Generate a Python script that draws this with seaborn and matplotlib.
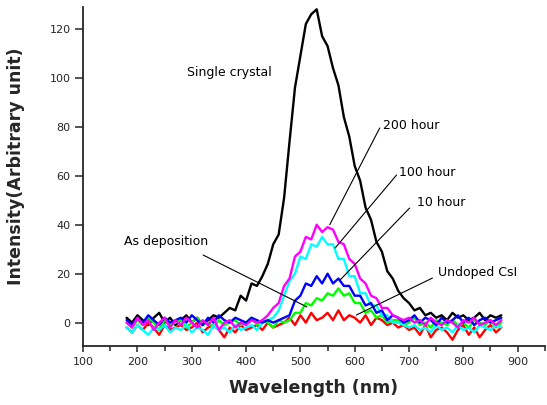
import numpy as np
import pandas as pd
import matplotlib
matplotlib.use("Agg")
import matplotlib.pyplot as plt
from matplotlib.ticker import MultipleLocator
import seaborn as sns

# wavelength grid (nm), 10 nm steps
wavelength = np.arange(180, 871, 10)

# intensities (arbitrary units)
single_crystal = [
    2, 0, 3, 1, -1, 2, 4, 0, 2, -1,
    1, 3, 0, 2, -1, 1, 3, 2, 4, 6,
    5, 11, 9, 16, 15, 19, 24, 32, 36, 51,
    74, 96, 109, 122, 126, 128, 117, 113, 104, 97,
    84, 76, 64, 58, 47, 42, 33, 29, 21, 18,
    13, 10, 8, 5, 6, 3, 4, 2, 3, 1,
    4, 2, 3, 1, 2, 4, 1, 3, 2, 3,
]
hour_200 = [
    0, -2, 2, -1, 1, -3, 0, 2, -2, 1,
    -1, 2, 0, -2, 1, -1, 2, -3, 0, 1,
    -2, 0, -1, 1, 0, 1, 3, 6, 8, 15,
    18, 27, 29, 35, 34, 40, 37, 39, 38, 33,
    32, 26, 24, 18, 16, 11, 10, 6, 6, 3,
    2, 1, 2, 0, 1, -1, 2, 0, -1, 1,
    0, -2, 1, 0, 2, -1, 0, 1, -1, 1,
]
hour_100 = [
    -2, -4, -1, -3, -5, -2, -3, -1, -4, -2,
    -3, -1, -4, -2, -3, -5, -1, -3, -2, -4,
    -1, -3, -2, -1, -3, 0, 1, 2, 5, 11,
    17, 20, 27, 26, 32, 31, 35, 32, 32, 26,
    26, 19, 19, 12, 12, 7, 7, 3, 3, 0,
    0, -1, -2, -1, -3, -2, -4, -1, -3, -2,
    -4, -1, -3, -2, -4, -1, -2, -3, -1, -2,
]
hour_10 = [
    1, -1, 2, 0, 3, 1, -1, 2, 0, 1,
    2, 0, 3, 1, -1, 2, 0, 3, 1, 0,
    2, 1, 0, 2, 1, 0, 1, 0, 1, 2,
    3, 9, 11, 16, 15, 19, 16, 20, 16, 18,
    15, 15, 11, 11, 7, 8, 4, 5, 1, 3,
    2, 0, 1, 3, 0, 2, 1, -1, 2, 0,
    1, 3, 0, 2, -1, 1, 2, 0, 1, 2,
]
as_deposition = [
    0, -2, 1, -1, 2, 0, -3, 1, -1, 0,
    1, -2, 0, 2, -1, 0, -2, 1, -1, 0,
    1, -1, 0, 2, -1, 1, 0, -2, 1, 0,
    1, 4, 4, 8, 7, 10, 9, 12, 11, 14,
    11, 12, 8, 8, 4, 5, 2, 3, 0, 1,
    1, -1, 0, 2, -1, 0, -2, 1, 0, -1,
    1, -1, 0, -2, 1, 0, -1, 1, -2, 0,
]
undoped_csi = [
    -2, -4, -1, -3, 0, -2, -5, -1, -3, -2,
    -1, -3, -2, 0, -4, -2, -1, -3, -6, -2,
    -4, -1, -3, -2, -1, -3, 0, -2, -1, 0,
    2, -1, 3, 0, 4, 1, 2, 4, 1, 5,
    1, 3, 2, 0, 3, -1, 2, 1, -1, 0,
    -2, -1, -3, -2, -5, -1, -6, -3, -2, -4,
    -7, -3, -1, -5, -2, -6, -3, -1, -4, -2,
]

samples = ["Single crystal", "Undoped CsI", "As deposition",
           "100 hour", "10 hour", "200 hour"]
series = {
    "Single crystal": single_crystal,
    "Undoped CsI": undoped_csi,
    "As deposition": as_deposition,
    "100 hour": hour_100,
    "10 hour": hour_10,
    "200 hour": hour_200,
}
colors = {
    "Single crystal": "#000000",
    "Undoped CsI": "#ff0000",
    "As deposition": "#00ff00",
    "100 hour": "#00ffff",
    "10 hour": "#0000ff",
    "200 hour": "#ff00ff",
}

df = pd.concat(
    [pd.DataFrame({"wavelength": wavelength, "intensity": series[s], "sample": s})
     for s in samples],
    ignore_index=True,
)

sns.set_style("ticks")
plt.rcParams["font.family"] = ["DejaVu Sans"]

fig = plt.figure(figsize=(5.47, 4.05), dpi=100)
ax = fig.add_axes([0.152, 0.146, 0.844, 0.837])

sns.lineplot(data=df, x="wavelength", y="intensity", hue="sample",
             hue_order=samples, palette=colors, estimator=None,
             linewidth=1.7, legend=False, ax=ax)

ax.set_xlim(100, 950)
ax.set_ylim(-9.5, 129)
ax.xaxis.set_minor_locator(MultipleLocator(50))
ax.set_xticks(range(100, 901, 100))
ax.set_yticks(range(0, 121, 20))
ax.tick_params(axis="x", which="major", length=4, width=1.1, labelsize=8, pad=4)
ax.tick_params(axis="x", which="minor", length=3.5, width=1.1)
ax.tick_params(axis="y", which="major", length=6, width=1.1, labelsize=8, pad=3)
for side in ("top", "right"):
    ax.spines[side].set_visible(False)
for side in ("left", "bottom"):
    ax.spines[side].set_linewidth(1.3)

ax.set_xlabel("Wavelength (nm)", fontsize=12.5, fontweight="bold", labelpad=9)
ax.set_ylabel("Intensity(Arbitrary unit)", fontsize=12.5, fontweight="bold")
ax.yaxis.set_label_coords(-0.125, 0.53)

# curve labels with leader lines
txt = dict(fontsize=9, color="black", va="center")
ax.text(292, 102, "Single crystal", **txt)
ax.text(652, 80.5, "200 hour", **txt)
ax.text(681, 61.5, "100 hour", **txt)
ax.text(714, 49, "10 hour", **txt)
ax.text(753, 20.4, "Undoped CsI", **txt)
ax.text(175, 33, "As deposition", **txt)

leaders = [
    ((646, 79.5), (554, 40)),
    ((677, 60.3), (564, 30.5)),
    ((701, 46.8), (573, 17.4)),
    ((743, 18.2), (603, 3.1)),
    ((321, 27.6), (512, 6.4)),
]
for (x0, y0), (x1, y1) in leaders:
    ax.plot([x0, x1], [y0, y1], color="black", lw=0.8)

fig.savefig("out.png", dpi=100)
